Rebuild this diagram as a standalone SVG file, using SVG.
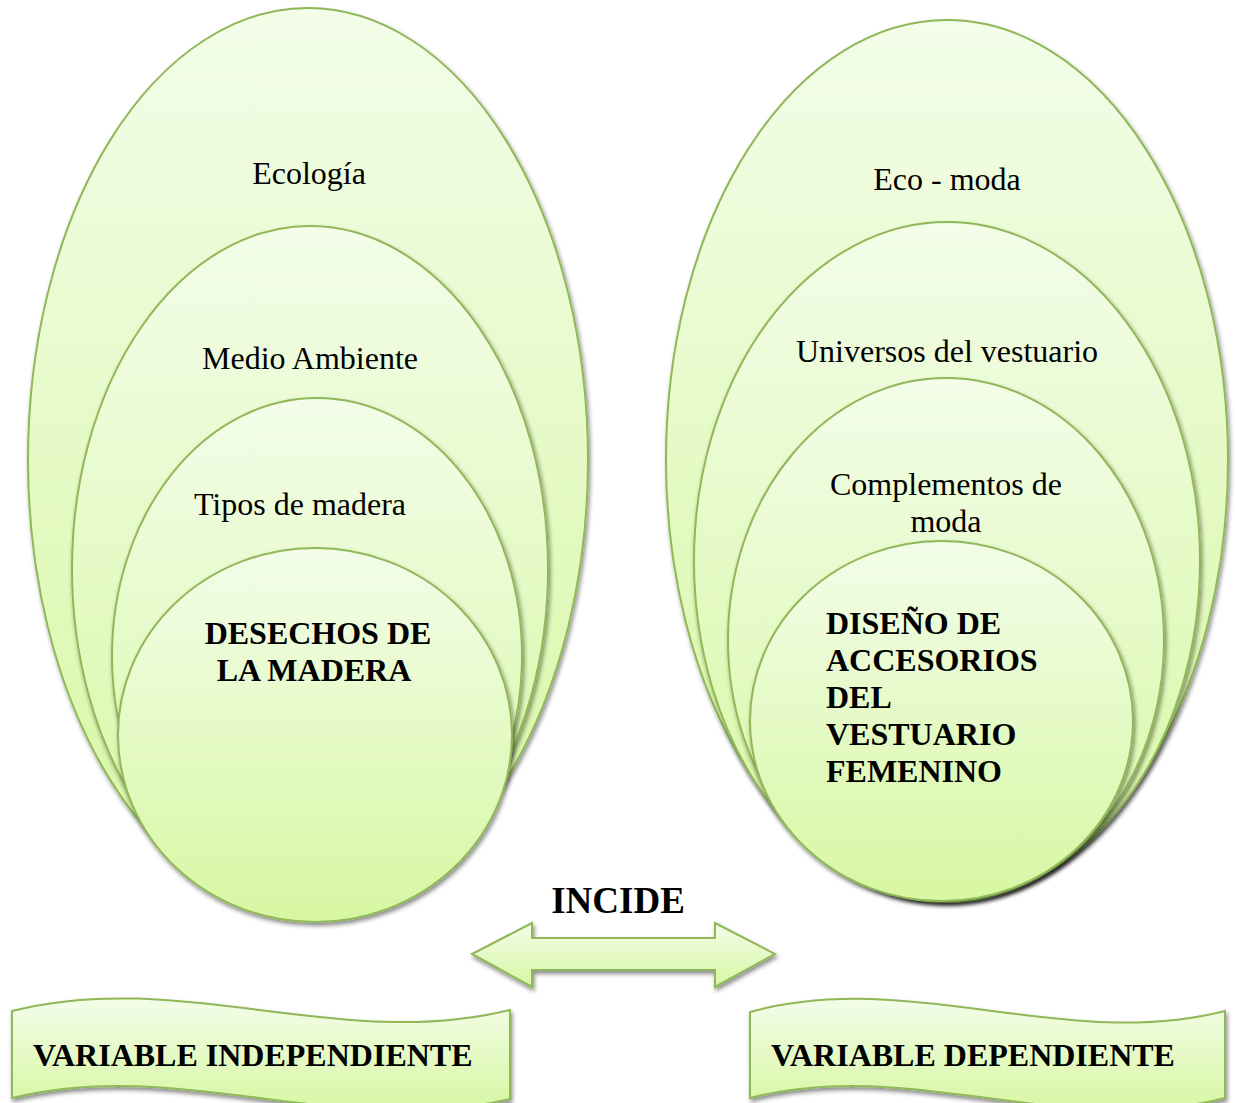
<svg xmlns="http://www.w3.org/2000/svg" width="1235" height="1103" viewBox="0 0 1235 1103">
<defs>
<linearGradient id="g" x1="0" y1="0" x2="0" y2="1">
<stop offset="0" stop-color="#f3fde9"/>
<stop offset="1" stop-color="#d7f7a2"/>
</linearGradient>
<filter id="sh" x="-10%" y="-10%" width="125%" height="125%">
<feDropShadow dx="1.5" dy="3" stdDeviation="2.2" flood-color="#000" flood-opacity="0.45"/>
</filter>
<style>
.s{fill:url(#g);stroke:#8fb858;stroke-width:2;filter:url(#sh)}
.t{font-family:"Liberation Serif","Times New Roman",serif;font-size:32px;fill:#000;text-anchor:middle}
.b{font-family:"Liberation Serif","Times New Roman",serif;font-size:32px;font-weight:bold;fill:#000}
</style>
</defs>
<rect width="1235" height="1103" fill="#fff"/>
<g id="ecologia"><ellipse class="s" cx="308" cy="460" rx="280" ry="452"/><text class="t" x="309" y="184">Ecología</text></g>
<g id="medio-ambiente"><ellipse class="s" cx="310" cy="569" rx="238" ry="343"/><text class="t" x="310" y="369">Medio Ambiente</text></g>
<g id="tipos-madera"><ellipse class="s" cx="317" cy="656" rx="205" ry="258"/><text class="t" x="300" y="515">Tipos de madera</text></g>
<g id="desechos"><ellipse class="s" cx="315" cy="735" rx="197" ry="187"/><text class="b" text-anchor="middle" x="318" y="644">DESECHOS DE</text><text class="b" text-anchor="middle" x="314" y="681">LA MADERA</text></g>
<g id="eco-moda"><ellipse class="s" cx="947" cy="460" rx="281" ry="440"/><text class="t" x="947" y="190">Eco - moda</text></g>
<g id="universos"><ellipse class="s" cx="947" cy="561" rx="253" ry="339"/><text class="t" x="947" y="362">Universos del vestuario</text></g>
<g id="complementos"><ellipse class="s" cx="946" cy="640" rx="218" ry="262"/><text class="t" x="946" y="495">Complementos de</text><text class="t" x="946" y="532">moda</text></g>
<g id="diseno"><ellipse class="s" cx="941.5" cy="721" rx="191.5" ry="180"/><text class="b" x="826" y="634">DISEÑO DE</text><text class="b" x="826" y="671">ACCESORIOS</text><text class="b" x="826" y="708">DEL</text><text class="b" x="826" y="745">VESTUARIO</text><text class="b" x="826" y="782">FEMENINO</text></g>
<g id="connectors">
<path class="s" d="M472,954 L532,923 L532,938 L715,938 L715,923 L775,954 L715,987 L715,970 L532,970 L532,987 Z"/>
<text class="b" text-anchor="middle" x="618" y="913" style="font-size:37px">INCIDE</text>
</g>
<g id="variable-independiente"><path class="s" d="M12,1011 C180,968 340,1052 510,1010 L510,1099 C340,1140 180,1056 12,1098 Z"/><text class="b" x="33" y="1066">VARIABLE INDEPENDIENTE</text></g>
<g id="variable-dependiente"><path class="s" d="M750,1012 C910,968 1065,1052 1225,1011 L1225,1098 C1065,1140 910,1056 750,1098 Z"/><text class="b" x="771" y="1066">VARIABLE DEPENDIENTE</text></g>
</svg>
